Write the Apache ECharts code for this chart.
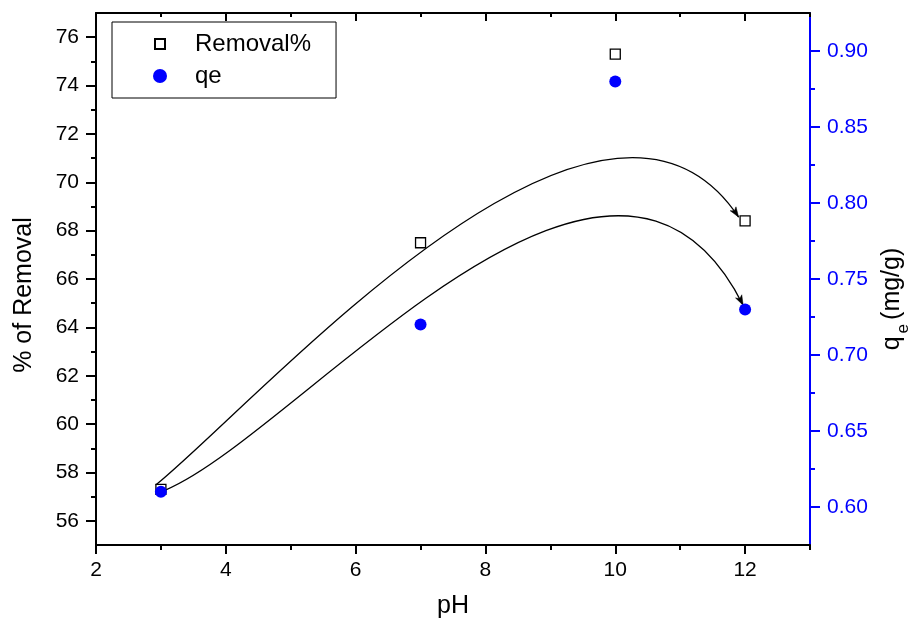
<!DOCTYPE html>
<html>
<head>
<meta charset="utf-8">
<script src="https://cdn.jsdelivr.net/npm/echarts@6/dist/echarts.min.js"></script>
<style>
  html, body { margin: 0; padding: 0; background: #ffffff; }
  #chart { width: 921px; height: 622px; }
</style>
</head>
<body>
<div id="chart"></div>
<script>
// Measured values
const phValues = [3, 7, 10, 12];
const removalPercent = [57.3, 67.5, 75.3, 68.4];
const qeValues = [0.61, 0.72, 0.88, 0.73];

// Tick positions
const xMajorTicks = [2, 4, 6, 8, 10, 12];
const xMinorTicks = [3, 5, 7, 9, 11, 13];
const leftMajorTicks = [56, 58, 60, 62, 64, 66, 68, 70, 72, 74, 76];
const leftMinorTicks = [57, 59, 61, 63, 65, 67, 69, 71, 73, 75];
const rightMajorTicks = [0.60, 0.65, 0.70, 0.75, 0.80, 0.85, 0.90];
const rightMinorTicks = [0.625, 0.675, 0.725, 0.775, 0.825, 0.875];

// Hand-drawn trend arrows: points along each arrow as (pH, axis value)
const removalArrowPH = [2.92, 4.22, 4.99, 6.53, 7.40, 8.43, 9.46, 10.18, 10.79, 11.25, 11.56, 11.90];
const removalArrowVal = [57.48, 60.86, 62.64, 65.94, 67.74, 69.60, 70.83, 71.08, 70.79, 70.24, 69.60, 68.56];
const qeArrowPH = [3.06, 4.99, 6.53, 7.40, 8.43, 9.46, 10.02, 10.79, 11.25, 11.56, 11.97];
const qeArrowVal = [0.611, 0.6689, 0.7202, 0.7470, 0.7696, 0.7891, 0.7932, 0.7866, 0.7715, 0.7579, 0.7327];

const FONT = 'Liberation Sans, Arial, Helvetica, sans-serif';
const BLUE = '#0000ff';

function zip(a, b) { return a.map((v, i) => [v, b[i]]); }

// Least-squares cubic Bézier with fixed end points through a list of pixel points
function fitCubic(pts) {
  const n = pts.length;
  const P0 = pts[0], P3 = pts[n - 1];
  let t = [0];
  for (let i = 1; i < n; i++) {
    t.push(t[i - 1] + Math.hypot(pts[i][0] - pts[i - 1][0], pts[i][1] - pts[i - 1][1]));
  }
  t = t.map(v => v / t[n - 1]);
  let P1 = P0, P2 = P3;
  const bez = (s, k) => {
    const u = 1 - s;
    return u * u * u * P0[k] + 3 * u * u * s * P1[k] + 3 * u * s * s * P2[k] + s * s * s * P3[k];
  };
  const d1 = (s, k) => {
    const u = 1 - s;
    return 3 * u * u * (P1[k] - P0[k]) + 6 * u * s * (P2[k] - P1[k]) + 3 * s * s * (P3[k] - P2[k]);
  };
  const d2 = (s, k) => 6 * (1 - s) * (P2[k] - 2 * P1[k] + P0[k]) + 6 * s * (P3[k] - 2 * P2[k] + P1[k]);
  for (let iter = 0; iter < 40; iter++) {
    let a11 = 0, a12 = 0, a22 = 0;
    const c1 = [0, 0], c2 = [0, 0];
    for (let i = 0; i < n; i++) {
      const s = t[i], u = 1 - s;
      const b0 = u * u * u, b1 = 3 * u * u * s, b2 = 3 * u * s * s, b3 = s * s * s;
      a11 += b1 * b1; a12 += b1 * b2; a22 += b2 * b2;
      for (let k = 0; k < 2; k++) {
        const r = pts[i][k] - b0 * P0[k] - b3 * P3[k];
        c1[k] += b1 * r; c2[k] += b2 * r;
      }
    }
    const det = a11 * a22 - a12 * a12;
    P1 = [0, 1].map(k => (c1[k] * a22 - c2[k] * a12) / det);
    P2 = [0, 1].map(k => (a11 * c2[k] - a12 * c1[k]) / det);
    for (let i = 1; i < n - 1; i++) {
      const s = t[i];
      let num = 0, den = 0;
      for (let k = 0; k < 2; k++) {
        const e = bez(s, k) - pts[i][k];
        num += e * d1(s, k);
        den += d1(s, k) * d1(s, k) + e * d2(s, k);
      }
      if (den > 1e-9) t[i] = Math.min(1, Math.max(0, s - num / den));
    }
  }
  return [P0, P1, P2, P3];
}

function xAxisDef(position, ticks, len, inside, withLabels, showLine) {
  return {
    type: 'value', position: position, min: 2, max: 13,
    name: withLabels ? 'pH' : '',
    nameLocation: 'middle', nameGap: 49,
    nameTextStyle: { fontFamily: FONT, fontSize: 25, color: '#000' },
    axisLine: { show: showLine, lineStyle: { color: '#000', width: 2 } },
    axisTick: { show: true, inside: inside, length: len, customValues: ticks,
                lineStyle: { color: '#000', width: 2 } },
    axisLabel: { show: withLabels, customValues: ticks, margin: 15,
                 fontFamily: FONT, fontSize: 21, color: '#000' },
    splitLine: { show: false }
  };
}

function yAxisDef(opts) {
  return Object.assign({
    type: 'value',
    splitLine: { show: false },
    nameLocation: 'middle'
  }, opts);
}

// Curved arrow: one smooth Bézier through the given points, with a filled head at the end
function curvedArrow(name, yAxisIndex, xs, ys) {
  return {
    name: name, type: 'custom', xAxisIndex: 0, yAxisIndex: yAxisIndex,
    z: 1, silent: true, clip: false,
    data: [[xs[0], ys[0]]],
    renderItem: function (params, api) {
      const pts = xs.map((x, i) => api.coord([x, ys[i]]));
      const [P0, P1, P2, P3] = fitCubic(pts);
      const d = 'M' + P0[0] + ',' + P0[1] + ' C' + P1[0] + ',' + P1[1] + ' ' +
                P2[0] + ',' + P2[1] + ' ' + P3[0] + ',' + P3[1];
      const dx = P3[0] - P2[0], dy = P3[1] - P2[1];
      const len = Math.hypot(dx, dy) || 1;
      const ux = dx / len, uy = dy / len;
      const headLen = 10, headHalf = 3.5, notch = 2.5;
      const bx = P3[0] - ux * headLen, by = P3[1] - uy * headLen;
      const head = [
        P3,
        [bx - uy * headHalf, by + ux * headHalf],
        [bx + ux * notch, by + uy * notch],
        [bx + uy * headHalf, by - ux * headHalf]
      ];
      return {
        type: 'group',
        children: [
          { type: 'path', shape: { pathData: d },
            style: { fill: 'none', stroke: '#000', lineWidth: 1.3 } },
          { type: 'polygon', shape: { points: head },
            style: { fill: '#000', stroke: '#000', lineWidth: 0.5 } }
        ]
      };
    }
  };
}

const chart = echarts.init(document.getElementById('chart'), null, { renderer: 'canvas' });

const option = {
  animation: false,
  backgroundColor: '#ffffff',
  grid: { left: 96, right: 111, top: 13, bottom: 77, containLabel: false, outerBoundsMode: 'none' },
  legend: {
    orient: 'vertical', left: 112, top: 22,
    padding: [10, 25, 10, 40], itemGap: 8,
    itemWidth: 14, itemHeight: 14,
    borderColor: '#000', borderWidth: 1, borderRadius: 0,
    selectedMode: false,
    textStyle: { fontFamily: FONT, fontSize: 24, color: '#000', padding: [0, 0, 0, 23] },
    data: [
      { name: 'Removal%', icon: 'path://M0,0M14,14M2,2L12,2L12,12L2,12Z' },
      { name: 'qe', icon: 'circle' }
    ]
  },
  xAxis: [
    xAxisDef('bottom', xMajorTicks, 9, false, true, true),
    xAxisDef('bottom', xMinorTicks, 5, false, false, false),
    xAxisDef('top', xMajorTicks, 8, true, false, true),
    xAxisDef('top', xMinorTicks, 4, true, false, false)
  ],
  yAxis: [
    yAxisDef({
      position: 'left', min: 55, max: 77,
      name: '% of Removal', nameGap: 59,
      nameTextStyle: { fontFamily: FONT, fontSize: 25, color: '#000', padding: [0, 32, 0, 0] },
      axisLine: { show: true, lineStyle: { color: '#000', width: 2 } },
      axisTick: { show: true, length: 10, customValues: leftMajorTicks, lineStyle: { color: '#000', width: 2 } },
      axisLabel: { show: true, customValues: leftMajorTicks, margin: 17, fontFamily: FONT, fontSize: 21, color: '#000' }
    }),
    yAxisDef({
      position: 'left', min: 55, max: 77,
      axisLine: { show: false },
      axisTick: { show: true, length: 5, customValues: leftMinorTicks, lineStyle: { color: '#000', width: 2 } },
      axisLabel: { show: false }
    }),
    yAxisDef({
      position: 'right', min: 0.575, max: 0.925,
      name: '{m|q}{s|e}{m|(mg/g)}', nameGap: 70,
      nameTextStyle: {
        fontFamily: FONT, fontSize: 25, color: '#000', padding: [0, 40, 0, 0],
        rich: {
          m: { fontFamily: FONT, fontSize: 25, color: '#000', verticalAlign: 'bottom', padding: [0, 0, 7, 0] },
          s: { fontFamily: FONT, fontSize: 17, color: '#000', verticalAlign: 'bottom', padding: [0, 4, 0, 3] }
        }
      },
      axisLine: { show: true, lineStyle: { color: BLUE, width: 2 } },
      axisTick: { show: true, length: 10, customValues: rightMajorTicks, lineStyle: { color: BLUE, width: 2 } },
      axisLabel: { show: true, customValues: rightMajorTicks, margin: 17, fontFamily: FONT, fontSize: 21, color: BLUE,
                   formatter: v => v.toFixed(2) }
    }),
    yAxisDef({
      position: 'right', min: 0.575, max: 0.925,
      axisLine: { show: false },
      axisTick: { show: true, length: 5, customValues: rightMinorTicks, lineStyle: { color: BLUE, width: 2 } },
      axisLabel: { show: false }
    })
  ],
  series: [
    curvedArrow('removal trend', 0, removalArrowPH, removalArrowVal),
    curvedArrow('qe trend', 2, qeArrowPH, qeArrowVal),
    {
      name: 'Removal%', type: 'scatter', xAxisIndex: 0, yAxisIndex: 0,
      symbol: 'rect', symbolSize: 10, z: 3,
      itemStyle: { color: '#ffffff', borderColor: '#000', borderWidth: 1.3, opacity: 1 },
      data: zip(phValues, removalPercent)
    },
    {
      name: 'qe', type: 'scatter', xAxisIndex: 0, yAxisIndex: 2,
      symbol: 'circle', symbolSize: 12, z: 4,
      itemStyle: { color: BLUE, opacity: 1 },
      data: zip(phValues, qeValues)
    }
  ]
};

chart.setOption(option);
</script>
</body>
</html>
